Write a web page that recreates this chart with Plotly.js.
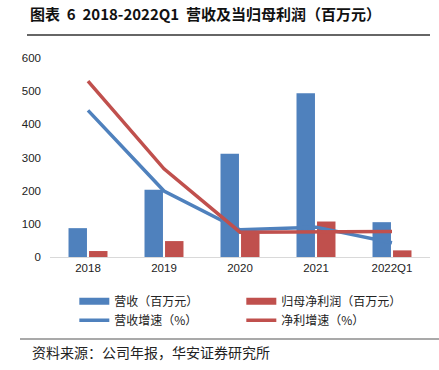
<!DOCTYPE html>
<html>
<head>
<meta charset="utf-8">
<script src="https://cdn.plot.ly/plotly-3.0.1.min.js"></script>
<style>html,body{margin:0;padding:0;background:#fff;}#chart{width:439px;height:370px;}</style>
</head>
<body>
<div id="chart"></div>
<script>
const categories = ["2018", "2019", "2020", "2021", "2022Q1"];
const revenue = [87, 203, 311, 494, 105];
const netProfit = [18, 48, 78, 107, 20];
const revenueGrowth = [442, 199, 82, 90, 43];
const profitGrowth = [530, 266, 75, 75, 77];
const yTicks = [0, 100, 200, 300, 400, 500, 600];

const BLUE = "#4F81BD", RED = "#C0504D";
const cjk = '"Noto Sans CJK SC", "Liberation Sans", sans-serif';

const traces = [
  {type: "bar", x: categories, y: revenue, marker: {color: BLUE}, showlegend: false, name: "营收（百万元）"},
  {type: "bar", x: categories, y: netProfit, marker: {color: RED}, showlegend: false, name: "归母净利润（百万元）"},
  {type: "scatter", mode: "lines", x: [null], y: [null], line: {color: BLUE, width: 7}, name: "营收（百万元）"},
  {type: "scatter", mode: "lines", x: [null], y: [null], line: {color: RED, width: 7}, name: "归母净利润（百万元）"},
  {type: "scatter", mode: "lines", x: categories, y: revenueGrowth, line: {color: BLUE, width: 3.5}, name: "营收增速（%）"},
  {type: "scatter", mode: "lines", x: categories, y: profitGrowth, line: {color: RED, width: 3.5}, name: "净利增速（%）"}
];

const layout = {
  width: 439, height: 370,
  margin: {l: 50, r: 9, t: 58, b: 113},
  paper_bgcolor: "#fff", plot_bgcolor: "#fff",
  barmode: "group", bargap: 0.46, bargroupgap: 0.1,
  font: {family: '"Liberation Sans", Arial, sans-serif', size: 11.5, color: "#222"},
  title: {text: "<b>图表\u00a0\u00a06\u00a0\u00a02018-2022Q1\u00a0\u00a0营收及当归母利润（百万元）</b>", xref: "container", yref: "container",
          x: 30/439, xanchor: "left", y: 1 - 15/370, yanchor: "middle",
          font: {family: cjk, size: 15, color: "#111"}},
  xaxis: {type: "category", showgrid: false, zeroline: false, showline: true, linecolor: "#d9d9d9", linewidth: 1,
          ticks: "", tickfont: {size: 11.5, color: "#222"}, fixedrange: true},
  yaxis: {range: [0, 600], tickvals: yTicks, showgrid: false, zeroline: false, showline: false, ticks: "",
          ticklabelstandoff: 8, tickfont: {size: 11.5, color: "#222"}, fixedrange: true},
  showlegend: true,
  legend: {orientation: "h", x: 0.064, xanchor: "left", y: -0.15, yanchor: "top",
           entrywidth: 122, itemwidth: 30, font: {family: cjk, size: 12, color: "#222"},
           traceorder: "normal", bgcolor: "rgba(0,0,0,0)"},
  shapes: [
    {type: "line", xref: "paper", yref: "paper", x0: (27-50)/380, x1: 1.0, y0: (257-35)/199, y1: (257-35)/199,
     line: {color: "#333", width: 1.5}},
    {type: "line", xref: "paper", yref: "paper", x0: (20-50)/380, x1: (439-50)/380, y0: (257-339)/199, y1: (257-339)/199,
     line: {color: "#555", width: 1.2}}
  ],
  annotations: [
    {text: "资料来源：公司年报，华安证券研究所", xref: "paper", yref: "paper", x: (30-50)/380, y: (257-352)/199,
     xanchor: "left", yanchor: "middle", showarrow: false, font: {family: cjk, size: 14, color: "#222"}}
  ]
};

Plotly.newPlot("chart", traces, layout, {displayModeBar: false, staticPlot: true});
</script>
</body>
</html>
